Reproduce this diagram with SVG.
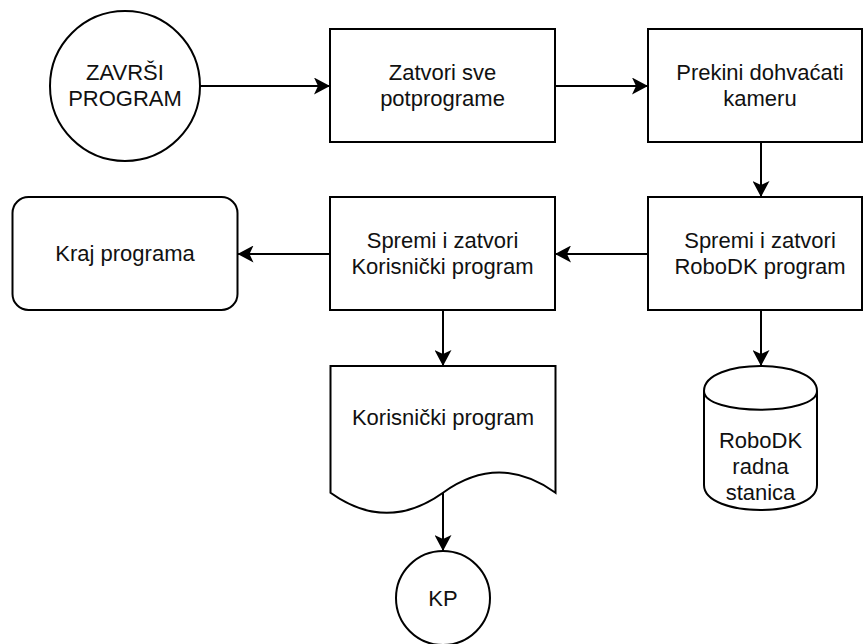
<svg xmlns="http://www.w3.org/2000/svg" width="864" height="644" viewBox="0 0 864 644">
  <defs>
    <marker id="arrow" viewBox="0 0 16 17" refX="16" refY="8.5" markerWidth="16" markerHeight="17" markerUnits="userSpaceOnUse" orient="auto">
      <path d="M0,0 L16,8.5 L0,17 L4,8.5 Z" fill="#000"/>
    </marker>
  </defs>
  <style>
    .shape { fill: #fff; stroke: #000; stroke-width: 2; }
    .edge { fill: none; stroke: #000; stroke-width: 2; marker-end: url(#arrow); }
    text { font-family: "Liberation Sans", Arial, Helvetica, sans-serif; font-size: 22px; fill: #111; text-anchor: middle; }
  </style>
  <rect width="864" height="644" fill="#fff"/>

  <g id="connectors">
    <path class="edge" d="M200,86 L330,86"/>
    <path class="edge" d="M555,86 L648,86"/>
    <path class="edge" d="M761,142 L761,197"/>
    <path class="edge" d="M648,254 L555,254"/>
    <path class="edge" d="M330,254 L237.5,254"/>
    <path class="edge" d="M761,310 L761,366"/>
    <path class="edge" d="M443,310 L443,366"/>
    <path class="edge" d="M443,492.7 L443,551"/>
  </g>

  <g id="zavrsi">
    <circle class="shape" cx="125" cy="86" r="75"/>
    <text x="125" y="80">ZAVRŠI</text>
    <text x="125" y="106.4">PROGRAM</text>
  </g>

  <g id="zatvori">
    <rect class="shape" x="330" y="29" width="225" height="113"/>
    <text x="442.5" y="80">Zatvori sve</text>
    <text x="442.5" y="106.4">potprograme</text>
  </g>

  <g id="prekini">
    <rect class="shape" x="648" y="29" width="214" height="113"/>
    <text x="760" y="80">Prekini dohvaćati</text>
    <text x="760" y="106.4">kameru</text>
  </g>

  <g id="spremi-robodk">
    <rect class="shape" x="648" y="197" width="214" height="113"/>
    <text x="760" y="247.5">Spremi i zatvori</text>
    <text x="760" y="274">RoboDK program</text>
  </g>

  <g id="spremi-korisnicki">
    <rect class="shape" x="330" y="197" width="225" height="113"/>
    <text x="442.5" y="247.5">Spremi i zatvori</text>
    <text x="442.5" y="274">Korisnički program</text>
  </g>

  <g id="kraj">
    <rect class="shape" x="12.5" y="197" width="225" height="113" rx="16" ry="16"/>
    <text x="125" y="261">Kraj programa</text>
  </g>

  <g id="robodk-stanica">
    <path class="shape" d="M704,391 C704,357.7 817,357.7 817,391 L817,485 C817,518.3 704,518.3 704,485 Z"/>
    <path class="shape" style="fill:none" d="M704,391 C704,416 817,416 817,391"/>
    <text x="760.5" y="447.7">RoboDK</text>
    <text x="760.5" y="473.5">radna</text>
    <text x="760.5" y="499.5">stanica</text>
  </g>

  <g id="korisnicki-dokument">
    <path class="shape" d="M330.5,366 L555.5,366 L555.5,492.7 Q499.25,452.4 443,492.7 Q386.75,533 330.5,492.7 Z"/>
    <text x="443" y="425">Korisnički program</text>
  </g>

  <g id="kp">
    <circle class="shape" cx="443" cy="598" r="47"/>
    <text x="443" y="606">KP</text>
  </g>
</svg>
